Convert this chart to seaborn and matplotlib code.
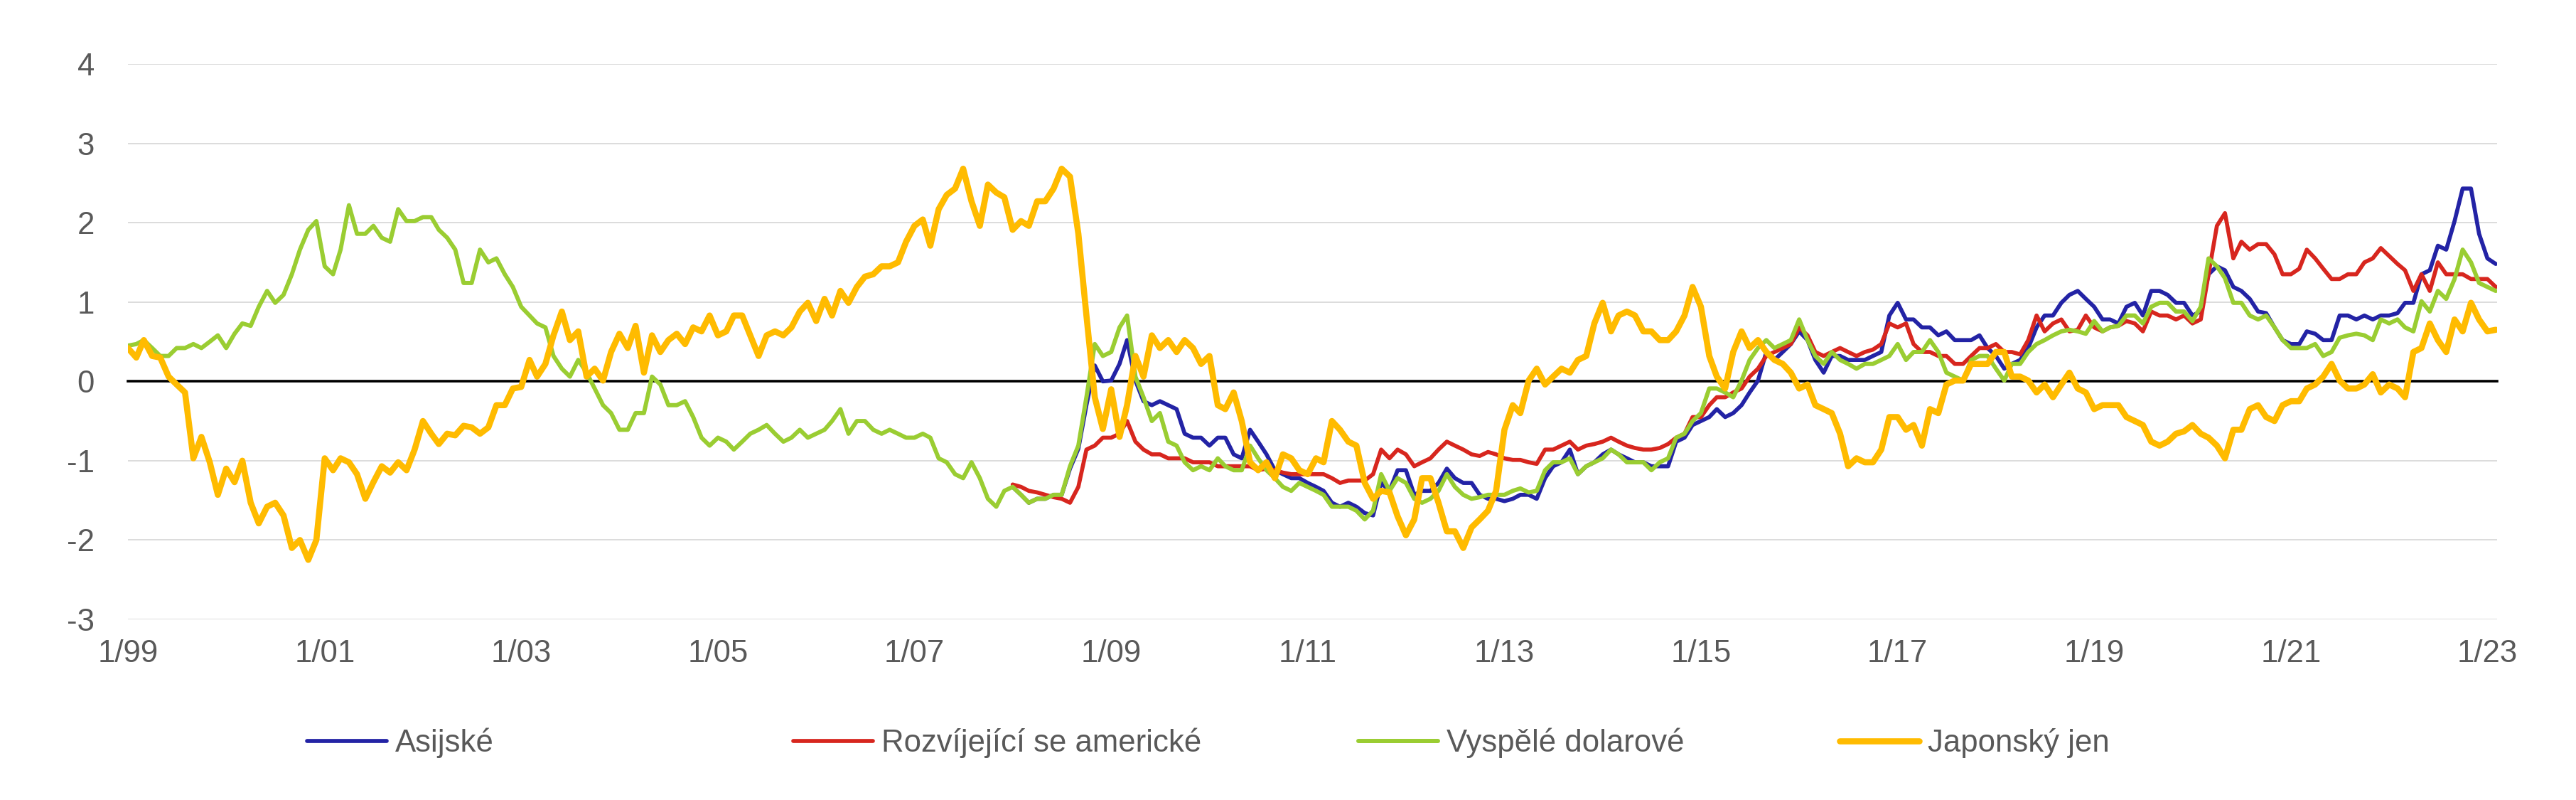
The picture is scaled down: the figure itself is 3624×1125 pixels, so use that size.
import numpy as np
import pandas as pd
import matplotlib
matplotlib.use("Agg")
import matplotlib.pyplot as plt
import seaborn as sns

# ---------------- data (monthly readings, 1999-01 ... 2023-02) ----------------
series_names = ["Asijské", "Rozvíjející se americké", "Vyspělé dolarové", "Japonský jen"]
series_colors = ["#2323A5", "#D7261E", "#9ACD32", "#FFBB00"]

tick_labels = ["1/99", "1/01", "1/03", "1/05", "1/07", "1/09", "1/11",
               "1/13", "1/15", "1/17", "1/19", "1/21", "1/23"]
tick_years = [1999, 2001, 2003, 2005, 2007, 2009, 2011, 2013, 2015, 2017, 2019, 2021, 2023]
y_ticks = [-3, -2, -1, 0, 1, 2, 3, 4]

start_full = "1999-01-01"
start_em = "2008-01-01"

yen = [
    0.42, 0.30, 0.52, 0.32, 0.30, 0.06, -0.04, -0.14, -0.97, -0.70, -1.02, -1.43,   # 1999
    -1.10, -1.27, -1.00, -1.53, -1.79, -1.58, -1.53, -1.69, -2.10, -2.00, -2.25, -2.00,  # 2000
    -0.97, -1.12, -0.97, -1.02, -1.17, -1.48, -1.27, -1.07, -1.15, -1.02, -1.12, -0.86,  # 2001
    -0.50, -0.66, -0.79, -0.66, -0.68, -0.56, -0.58, -0.66, -0.58, -0.30, -0.30, -0.09,  # 2002
    -0.07, 0.27, 0.06, 0.22, 0.58, 0.88, 0.52, 0.63, 0.06, 0.16, 0.01, 0.37,   # 2003
    0.60, 0.42, 0.70, 0.11, 0.58, 0.37, 0.52, 0.60, 0.47, 0.68, 0.63, 0.83,    # 2004
    0.58, 0.63, 0.83, 0.83, 0.58, 0.32, 0.58, 0.63, 0.58, 0.68, 0.88, 0.99,    # 2005
    0.76, 1.04, 0.83, 1.14, 0.99, 1.19, 1.32, 1.35, 1.45, 1.45, 1.50, 1.76,    # 2006
    1.96, 2.04, 1.71, 2.17, 2.35, 2.43, 2.68, 2.27, 1.96, 2.48, 2.38, 2.32,    # 2007
    1.91, 2.02, 1.96, 2.27, 2.27, 2.43, 2.68, 2.58, 1.86, 0.83, -0.20, -0.60,  # 2008
    -0.10, -0.70, -0.30, 0.32, 0.06, 0.58, 0.42, 0.52, 0.37, 0.52, 0.42, 0.22,  # 2009
    0.32, -0.30, -0.35, -0.14, -0.50, -1.02, -1.12, -1.02, -1.22, -0.92, -0.97, -1.12,  # 2010
    -1.17, -0.97, -1.02, -0.50, -0.61, -0.76, -0.81, -1.28, -1.48, -1.38, -1.40, -1.70,  # 2011
    -1.94, -1.74, -1.22, -1.22, -1.53, -1.89, -1.89, -2.10, -1.84, -1.74, -1.63, -1.38,  # 2012
    -0.61, -0.30, -0.40, 0.01, 0.16, -0.04, 0.06, 0.16, 0.11, 0.27, 0.32, 0.73,  # 2013
    0.99, 0.63, 0.83, 0.88, 0.83, 0.63, 0.63, 0.52, 0.52, 0.63, 0.83, 1.19,    # 2014
    0.94, 0.32, 0.06, -0.09, 0.37, 0.63, 0.42, 0.52, 0.37, 0.27, 0.22, 0.11,   # 2015
    -0.09, -0.04, -0.30, -0.35, -0.40, -0.66, -1.07, -0.97, -1.02, -1.02, -0.86, -0.45,  # 2016
    -0.45, -0.61, -0.55, -0.81, -0.35, -0.40, -0.04, 0.01, 0.01, 0.22, 0.22, 0.22,  # 2017
    0.37, 0.37, 0.06, 0.06, 0.01, -0.14, -0.04, -0.20, -0.04, 0.11, -0.09, -0.14,  # 2018
    -0.35, -0.30, -0.30, -0.30, -0.45, -0.50, -0.55, -0.76, -0.81, -0.76, -0.66, -0.63,  # 2019
    -0.55, -0.66, -0.71, -0.81, -0.97, -0.61, -0.61, -0.35, -0.30, -0.45, -0.50, -0.30,  # 2020
    -0.25, -0.25, -0.09, -0.04, 0.06, 0.22, 0.01, -0.09, -0.09, -0.04, 0.09, -0.14,  # 2021
    -0.04, -0.09, -0.20, 0.37, 0.42, 0.73, 0.52, 0.37, 0.78, 0.63, 0.99, 0.78,  # 2022
    0.63, 0.65,  # 2023
]

dollar = [
    0.45, 0.47, 0.52, 0.42, 0.32, 0.32, 0.42, 0.42, 0.47, 0.42, 0.50, 0.58,    # 1999
    0.42, 0.60, 0.73, 0.70, 0.94, 1.14, 0.99, 1.09, 1.35, 1.66, 1.91, 2.02,    # 2000
    1.45, 1.35, 1.66, 2.22, 1.86, 1.86, 1.96, 1.81, 1.76, 2.17, 2.02, 2.02,    # 2001
    2.07, 2.07, 1.91, 1.81, 1.66, 1.24, 1.24, 1.66, 1.50, 1.55, 1.35, 1.19,    # 2002
    0.94, 0.83, 0.73, 0.68, 0.32, 0.16, 0.06, 0.27, 0.11, -0.09, -0.30, -0.40,  # 2003
    -0.61, -0.61, -0.40, -0.40, 0.06, -0.04, -0.30, -0.30, -0.25, -0.45, -0.71, -0.81,  # 2004
    -0.71, -0.76, -0.86, -0.76, -0.66, -0.61, -0.55, -0.66, -0.76, -0.71, -0.61, -0.71,  # 2005
    -0.66, -0.61, -0.50, -0.35, -0.66, -0.50, -0.50, -0.61, -0.66, -0.61, -0.66, -0.71,  # 2006
    -0.71, -0.66, -0.71, -0.97, -1.02, -1.17, -1.22, -1.02, -1.22, -1.48, -1.58, -1.38,  # 2007
    -1.33, -1.43, -1.53, -1.48, -1.48, -1.43, -1.43, -1.07, -0.81, -0.20, 0.47, 0.32,  # 2008
    0.37, 0.68, 0.83, 0.06, -0.20, -0.50, -0.40, -0.76, -0.81, -1.02, -1.12, -1.07,  # 2009
    -1.12, -0.97, -1.07, -1.12, -1.12, -0.81, -0.97, -1.12, -1.22, -1.33, -1.38, -1.28,  # 2010
    -1.33, -1.38, -1.43, -1.58, -1.58, -1.58, -1.63, -1.74, -1.63, -1.17, -1.38, -1.22,  # 2011
    -1.28, -1.48, -1.53, -1.48, -1.38, -1.17, -1.33, -1.43, -1.48, -1.46, -1.43, -1.43,  # 2012
    -1.43, -1.38, -1.35, -1.40, -1.38, -1.12, -1.02, -1.02, -0.97, -1.17, -1.07, -1.02,  # 2013
    -0.97, -0.86, -0.92, -1.02, -1.02, -1.02, -1.12, -1.02, -0.97, -0.71, -0.66, -0.50,  # 2014
    -0.40, -0.09, -0.09, -0.14, -0.20, 0.01, 0.27, 0.42, 0.52, 0.42, 0.47, 0.52,  # 2015
    0.78, 0.52, 0.32, 0.22, 0.37, 0.27, 0.22, 0.16, 0.22, 0.22, 0.27, 0.32,    # 2016
    0.47, 0.27, 0.37, 0.37, 0.52, 0.37, 0.11, 0.06, 0.01, 0.27, 0.32, 0.32,    # 2017
    0.16, 0.01, 0.22, 0.22, 0.37, 0.47, 0.52, 0.58, 0.63, 0.65, 0.63, 0.60,    # 2018
    0.76, 0.63, 0.68, 0.70, 0.83, 0.83, 0.73, 0.94, 0.99, 0.99, 0.88, 0.88,    # 2019
    0.76, 0.94, 1.55, 1.45, 1.30, 0.99, 0.99, 0.83, 0.78, 0.83, 0.68, 0.52,    # 2020
    0.42, 0.42, 0.42, 0.47, 0.32, 0.37, 0.55, 0.58, 0.60, 0.58, 0.52, 0.78,    # 2021
    0.73, 0.78, 0.68, 0.63, 1.01, 0.88, 1.14, 1.04, 1.29, 1.66, 1.50, 1.24,    # 2022
    1.19, 1.14,  # 2023
]

latam = [
    -1.30, -1.33, -1.38, -1.40, -1.43, -1.46, -1.48, -1.53, -1.33, -0.86, -0.81, -0.71,  # 2008
    -0.71, -0.66, -0.50, -0.76, -0.86, -0.92, -0.92, -0.97, -0.97, -0.97, -1.02, -1.02,  # 2009
    -1.02, -1.07, -1.07, -1.07, -1.07, -1.07, -1.12, -1.10, -1.12, -1.15, -1.17, -1.17,  # 2010
    -1.17, -1.17, -1.17, -1.22, -1.28, -1.25, -1.25, -1.25, -1.17, -0.86, -0.97, -0.86,  # 2011
    -0.92, -1.07, -1.02, -0.97, -0.86, -0.76, -0.81, -0.86, -0.92, -0.94, -0.89, -0.92,  # 2012
    -0.97, -0.99, -0.99, -1.02, -1.04, -0.86, -0.86, -0.81, -0.76, -0.86, -0.81, -0.79,  # 2013
    -0.76, -0.71, -0.76, -0.81, -0.84, -0.86, -0.86, -0.84, -0.79, -0.71, -0.66, -0.45,  # 2014
    -0.45, -0.30, -0.20, -0.20, -0.14, -0.09, 0.06, 0.16, 0.32, 0.37, 0.42, 0.47,  # 2015
    0.68, 0.58, 0.37, 0.32, 0.37, 0.42, 0.37, 0.32, 0.37, 0.40, 0.47, 0.73,    # 2016
    0.68, 0.73, 0.47, 0.37, 0.37, 0.32, 0.32, 0.22, 0.22, 0.32, 0.42, 0.42,    # 2017
    0.47, 0.37, 0.37, 0.34, 0.52, 0.83, 0.63, 0.73, 0.78, 0.63, 0.65, 0.83,    # 2018
    0.68, 0.63, 0.68, 0.70, 0.76, 0.73, 0.63, 0.88, 0.83, 0.83, 0.78, 0.83,    # 2019
    0.73, 0.78, 1.35, 1.96, 2.12, 1.55, 1.76, 1.66, 1.73, 1.73, 1.60, 1.35,    # 2020
    1.35, 1.42, 1.66, 1.55, 1.42, 1.29, 1.29, 1.35, 1.35, 1.50, 1.55, 1.68,    # 2021
    1.58, 1.48, 1.40, 1.14, 1.35, 1.14, 1.50, 1.35, 1.35, 1.35, 1.29, 1.29,    # 2022
    1.29, 1.19,  # 2023
]

asia = [
    -1.33, -1.43, -1.53, -1.48, -1.48, -1.43, -1.43, -1.10, -0.85, -0.30, 0.20, 0.00,  # 2008
    0.01, 0.22, 0.52, 0.01, -0.25, -0.30, -0.25, -0.30, -0.35, -0.66, -0.71, -0.71,  # 2009
    -0.81, -0.71, -0.71, -0.92, -0.97, -0.61, -0.76, -0.92, -1.12, -1.17, -1.22, -1.22,  # 2010
    -1.28, -1.33, -1.38, -1.53, -1.58, -1.53, -1.58, -1.66, -1.69, -1.28, -1.38, -1.12,  # 2011
    -1.12, -1.43, -1.38, -1.38, -1.28, -1.10, -1.22, -1.28, -1.28, -1.43, -1.48, -1.48,  # 2012
    -1.51, -1.48, -1.43, -1.43, -1.48, -1.22, -1.07, -1.02, -0.86, -1.17, -1.07, -1.02,  # 2013
    -0.92, -0.86, -0.92, -0.97, -1.02, -1.02, -1.07, -1.07, -1.07, -0.76, -0.71, -0.55,  # 2014
    -0.50, -0.45, -0.35, -0.45, -0.40, -0.30, -0.14, 0.01, 0.37, 0.27, 0.37, 0.47,  # 2015
    0.63, 0.52, 0.27, 0.11, 0.32, 0.32, 0.27, 0.27, 0.27, 0.32, 0.37, 0.83,    # 2016
    0.99, 0.78, 0.78, 0.68, 0.68, 0.58, 0.63, 0.52, 0.52, 0.52, 0.58, 0.42,    # 2017
    0.32, 0.16, 0.22, 0.27, 0.42, 0.68, 0.83, 0.83, 0.99, 1.09, 1.14, 1.04,    # 2018
    0.94, 0.78, 0.78, 0.73, 0.94, 0.99, 0.83, 1.14, 1.14, 1.09, 0.99, 0.99,    # 2019
    0.83, 0.88, 1.35, 1.45, 1.40, 1.19, 1.14, 1.04, 0.88, 0.86, 0.68, 0.52,    # 2020
    0.47, 0.47, 0.63, 0.60, 0.52, 0.52, 0.83, 0.83, 0.78, 0.83, 0.78, 0.83,    # 2021
    0.83, 0.86, 0.99, 0.99, 1.35, 1.40, 1.71, 1.66, 2.02, 2.43, 2.43, 1.86,    # 2022
    1.55, 1.48,  # 2023
]

# ---------------- build long-form table ----------------
dates_full = pd.date_range(start_full, periods=len(yen), freq="MS")
dates_em = pd.date_range(start_em, periods=len(asia), freq="MS")

frames = [
    pd.DataFrame({"date": dates_em, "value": asia, "series": series_names[0]}),
    pd.DataFrame({"date": dates_em, "value": latam, "series": series_names[1]}),
    pd.DataFrame({"date": dates_full, "value": dollar, "series": series_names[2]}),
    pd.DataFrame({"date": dates_full, "value": yen, "series": series_names[3]}),
]
df = pd.concat(frames, ignore_index=True)

# ---------------- styling ----------------
sns.set_style("white")
plt.rcParams["font.family"] = ["Liberation Sans", "DejaVu Sans"]

W, H, DPI = 3624, 1125, 100
fig = plt.figure(figsize=(W / DPI, H / DPI), dpi=DPI)
ax = fig.add_axes([180 / W, 1 - 871 / H, (3513 - 180) / W, (871 - 90) / H])

line_widths = [4.1, 4.1, 4.3, 6.2]
handles = []
for name, color, lw in zip(series_names, series_colors, line_widths):
    sub = df[df["series"] == name]
    sns.lineplot(data=sub, x="date", y="value", color=color, linewidth=lw,
                 ax=ax, legend=False, estimator=None, zorder=3)
    ln = ax.get_lines()[-1]
    ln.set_linewidth(lw)
    ln.set_solid_joinstyle("round")
    ln.set_solid_capstyle("round")
    handles.append(ln)

ax.set_ylim(y_ticks[0], y_ticks[-1])
ax.set_yticks(y_ticks)
ax.set_yticklabels([str(v) for v in y_ticks])
ax.set_xlim(pd.Timestamp(start_full), pd.Timestamp("2023-02-06"))
ax.set_xticks([pd.Timestamp(f"{y}-01-01") for y in tick_years])
ax.set_xticklabels(tick_labels)
ax.set_xlabel("")
ax.set_ylabel("")

ax.yaxis.grid(True, color="#d9d9d9", linewidth=1.3)
ax.xaxis.grid(False)
ax.set_axisbelow(True)

for s in ["left", "right", "top"]:
    ax.spines[s].set_visible(False)
ax.spines["bottom"].set_position(("data", 0))
ax.spines["bottom"].set_color("black")
ax.spines["bottom"].set_linewidth(2.6)
ax.spines["bottom"].set_zorder(2.5)

ax.tick_params(axis="x", direction="out", length=8.5, width=2.9, color="black",
               pad=253, labelsize=31.5, labelcolor="#595959")
ax.tick_params(axis="y", length=0, pad=34, labelsize=31.5, labelcolor="#595959")

# ---------------- legend (one entry per column position) ----------------
legend_x = [432, 1116, 1911, 2588]
for h, name, lx in zip(handles, series_names, legend_x):
    fig.legend([h], [name], loc="center left", bbox_to_anchor=(lx / W, 1 - 1045 / H),
               frameon=False, fontsize=31.5, handlelength=2.55, handletextpad=0.28,
               borderpad=0, borderaxespad=0, labelcolor="#595959")

fig.savefig("out.png", dpi=DPI)
